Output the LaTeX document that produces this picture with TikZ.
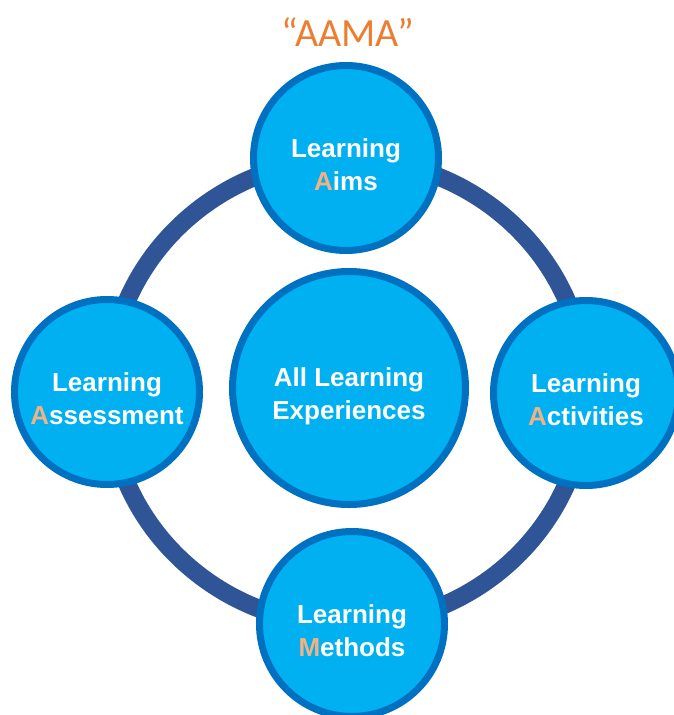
\documentclass[tikz,border=0pt]{standalone}
\usepackage{fontspec}
\setmainfont{Liberation Sans}
\newfontfamily\titlefont{Carlito}
\definecolor{discfill}{HTML}{00B0F0}
\definecolor{discline}{HTML}{0070C0}
\definecolor{ringblue}{HTML}{2F5597}
\definecolor{keyorange}{HTML}{F4B183}
\definecolor{titleorange}{HTML}{ED7D31}
\newcommand{\key}[1]{{\color{keyorange}#1}}
\tikzset{
  disc/.style={circle,draw=discline,fill=discfill,line width=5.25pt,
    minimum size=138.75pt,inner sep=0pt},
  bigdisc/.style={disc,minimum size=174.75pt},
  disctext/.style={align=center,text=white,inner sep=0pt,
    font=\fontsize{19.5}{25}\selectfont\bfseries}
}
\begin{document}
\begin{tikzpicture}[x=0.75pt,y=-0.75pt]
\useasboundingbox (0,0) rectangle (674,715);
\pgfmathsetmacro{\ringx}{239}
\pgfmathsetmacro{\ringy}{233}
\node[text=titleorange,font=\titlefont\fontsize{30}{32}\selectfont,anchor=base] (title) at (348,46) {“AAMA”};
\coordinate (hub) at (347,392);
\draw[ringblue,line width=13.5pt] (hub) ellipse [x radius=\ringx, y radius=\ringy];
% outer discs
\node[disc] (aims) at (346,158) {};
\node[disc] (assess) at (107,392) {};
\node[disc] (activ) at (586,393) {};
\node[disc] (methods) at (352,624) {};
\node[bigdisc] (all) at (349,388) {};
% texts
\node[disctext] (aimstext) at ([yshift=-5pt]aims.center) {Learning\\\key{A}ims};
\node[disctext] (assesstext) at ([yshift=-5pt]assess.center) {Learning\\\key{A}ssessment};
\node[disctext] (activtext) at ([yshift=-5pt]activ.center) {Learning\\\key{A}ctivities};
\node[disctext] (methodstext) at ([yshift=-5pt]methods.center) {Learning\\\key{M}ethods};
\node[disctext] (alltext) at ([yshift=-6pt]all.center) {All Learning\\Experiences};
\end{tikzpicture}
\end{document}
